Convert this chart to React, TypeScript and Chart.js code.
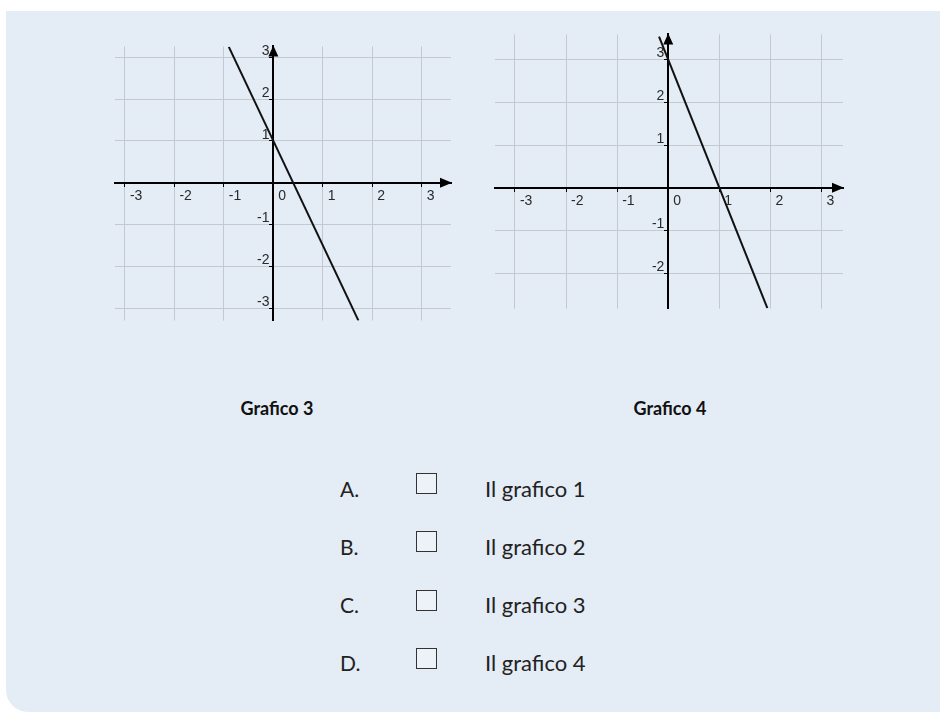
import React, { useEffect, useRef } from "react";
import { Chart, registerables } from "chart.js";

Chart.register(...registerables);

// Tick values shown on the axes
const xTicks = [-3, -2, -1, 0, 1, 2, 3];
const yTicks3 = [-3, -2, -1, 1, 2, 3];
const yTicks4 = [-2, -1, 1, 2, 3];

// Grafico 3: straight line y = 1 - 2.5x (end points)
const line3X = [-0.9, 1.72];
const line3Y = [3.25, -3.3];

// Grafico 4: straight line y = 3 - 3x (end points)
const line4X = [-0.18, 1.94];
const line4Y = [3.54, -2.82];

// Visible window of each plane: xMin, xMax, yMin, yMax
const range3 = [-3.2, 3.59, -3.3, 3.26];
const range4 = [-3.39, 3.42, -2.83, 3.59];

const chartTitles = ["Grafico 3", "Grafico 4"];
const optionLetters = ["A.", "B.", "C.", "D."];
const optionTexts = ["Il grafico 1", "Il grafico 2", "Il grafico 3", "Il grafico 4"];

const GRID = "#c5c9cf";
const INK = "#111111";

// Arrow heads at the positive ends of both axes
const axisArrows = {
  id: "axisArrows",
  afterDraw(chart: any) {
    const { ctx, chartArea, scales } = chart;
    const x0 = scales.x.getPixelForValue(0);
    const y0 = scales.y.getPixelForValue(0);
    ctx.save();
    ctx.fillStyle = "#000";
    ctx.beginPath();
    ctx.moveTo(chartArea.right + 1, y0);
    ctx.lineTo(chartArea.right - 11, y0 - 5);
    ctx.lineTo(chartArea.right - 11, y0 + 5);
    ctx.closePath();
    ctx.fill();
    ctx.beginPath();
    ctx.moveTo(x0, chartArea.top - 1);
    ctx.lineTo(x0 - 5, chartArea.top + 10);
    ctx.lineTo(x0 + 5, chartArea.top + 10);
    ctx.closePath();
    ctx.fill();
    ctx.restore();
  },
};

function makeConfig(
  xs: number[],
  ys: number[],
  yTicks: number[],
  range: number[],
  padding: { left: number; top: number; right: number; bottom: number }
): any {
  const tickFont = { family: "'Liberation Sans', Arial, sans-serif", size: 14 };
  return {
    type: "scatter",
    data: {
      datasets: [
        {
          data: xs.map((x, i) => ({ x, y: ys[i] })),
          showLine: true,
          borderColor: INK,
          borderWidth: 2,
          pointRadius: 0,
        },
      ],
    },
    options: {
      responsive: false,
      animation: false,
      events: [],
      layout: { padding },
      plugins: { legend: { display: false }, tooltip: { enabled: false } },
      scales: {
        x: {
          type: "linear",
          min: range[0],
          max: range[1],
          position: { y: 0 },
          afterBuildTicks: (scale: any) => {
            scale.ticks = xTicks.map((v) => ({ value: v }));
          },
          grid: { color: GRID, lineWidth: 1, tickLength: 3, tickColor: "#000", tickWidth: 1 },
          border: { display: true, color: "#000", width: 2 },
          ticks: {
            color: "#2a2a2a",
            font: tickFont,
            align: "start",
            labelOffset: 5,
            padding: 2,
            maxRotation: 0,
            autoSkip: false,
            callback: (v: number) => String(v),
          },
        },
        y: {
          type: "linear",
          min: range[2],
          max: range[3],
          position: { x: 0 },
          afterBuildTicks: (scale: any) => {
            scale.ticks = yTicks.map((v) => ({ value: v }));
          },
          grid: { color: GRID, lineWidth: 1, tickLength: 3, tickColor: "#000", tickWidth: 1 },
          border: { display: true, color: "#000", width: 2 },
          ticks: {
            color: "#2a2a2a",
            font: tickFont,
            labelOffset: -6,
            autoSkip: false,
            callback: (v: number) => String(v) + " ",
          },
        },
      },
    },
    plugins: [axisArrows],
  };
}

function Plane(props: {
  left: number;
  top: number;
  width: number;
  height: number;
  xs: number[];
  ys: number[];
  yTicks: number[];
  range: number[];
  padding: { left: number; top: number; right: number; bottom: number };
}) {
  const ref = useRef<HTMLCanvasElement | null>(null);
  useEffect(() => {
    if (!ref.current) return;
    const chart = new Chart(
      ref.current,
      makeConfig(props.xs, props.ys, props.yTicks, props.range, props.padding)
    );
    return () => chart.destroy();
  }, []);
  return (
    <canvas
      ref={ref}
      width={props.width}
      height={props.height}
      style={{
        position: "absolute",
        left: props.left,
        top: props.top,
        width: props.width,
        height: props.height,
      }}
    />
  );
}

export default function App() {
  const textFont = "Lato, 'Open Sans', sans-serif";
  return (
    <div
      style={{
        position: "fixed",
        left: 0,
        top: 0,
        width: 940,
        height: 713,
        background: "#ffffff",
        overflow: "hidden",
      }}
    >
      <div
        style={{
          position: "absolute",
          left: 6,
          top: 11,
          width: 980,
          height: 701,
          background: "#e4ecf5",
          borderBottomLeftRadius: 22,
        }}
      />
      <Plane
        left={105}
        top={35}
        width={360}
        height={297}
        xs={line3X}
        ys={line3Y}
        yTicks={yTicks3}
        range={range3}
        padding={{ left: 10, top: 10, right: 14, bottom: 10 }}
      />
      <Plane
        left={485}
        top={23}
        width={370}
        height={297}
        xs={line4X}
        ys={line4Y}
        yTicks={yTicks4}
        range={range4}
        padding={{ left: 10, top: 10, right: 12, bottom: 10 }}
      />
      {chartTitles.map((t, i) => (
        <div
          key={t}
          style={{
            position: "absolute",
            left: (i === 0 ? 277 : 670) - 100,
            top: 398,
            width: 200,
            height: 20,
            lineHeight: "20px",
            textAlign: "center",
            fontFamily: textFont,
            fontWeight: 700,
            fontSize: 18,
            color: "#111",
          }}
        >
          {t}
        </div>
      ))}
      {optionLetters.map((letter, i) => {
        const top = 475.5 + i * 58.3;
        return (
          <React.Fragment key={letter}>
            <div
              style={{
                position: "absolute",
                left: 340,
                top,
                height: 26,
                lineHeight: "26px",
                fontFamily: textFont,
                fontSize: 21,
                color: "#222",
              }}
            >
              {letter}
            </div>
            <div
              style={{
                position: "absolute",
                left: 416,
                top: top - 2.5,
                width: 19,
                height: 19,
                border: "1.5px solid #333",
                background: "#edf2f8",
              }}
            />
            <div
              style={{
                position: "absolute",
                left: 485,
                top,
                height: 26,
                lineHeight: "26px",
                fontFamily: textFont,
                fontSize: 22,
                color: "#222",
                whiteSpace: "nowrap",
              }}
            >
              {optionTexts[i]}
            </div>
          </React.Fragment>
        );
      })}
    </div>
  );
}
